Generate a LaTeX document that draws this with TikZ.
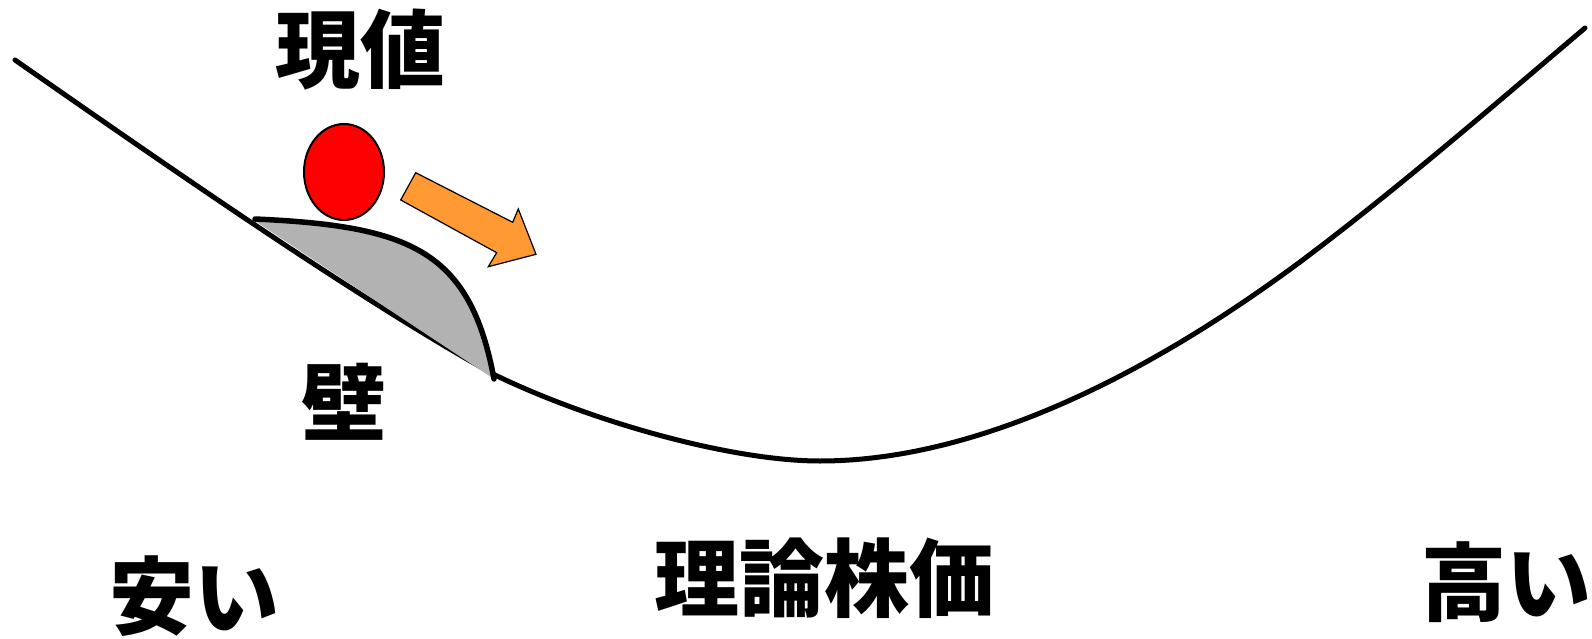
\documentclass[tikz,border=0pt]{standalone}
\usepackage{fontspec}
\usetikzlibrary{shapes.geometric}
\newfontfamily\cjk{Noto Sans CJK JP}
\definecolor{ballred}{RGB}{255,0,0}
\definecolor{arroworange}{RGB}{255,153,51}
\definecolor{wallgrey}{RGB}{178,178,178}
\tikzset{
  lbl/.style={inner sep=0pt, font=\cjk\bfseries\fontsize{85}{85}\selectfont},
  mainline/.style={line width=5pt, line cap=round, line join=round},
}
\begin{document}
\begin{tikzpicture}[x=1pt,y=-1pt]
\useasboundingbox[fill=white] (0,0) rectangle (1592,639);
% main curve
\draw[mainline] (15,60) .. controls (180,175) and (360,300) .. (495,375)
  .. controls (590,421) and (730,461) .. (820,461)
  .. controls (1020,461) and (1220,321) .. (1300,262)
  .. controls (1400,187) and (1500,100) .. (1585,28);
% wall
\fill[wallgrey] (255,219) .. controls (410,226) and (470,250) .. (494,379) -- (258,223) -- cycle;
\draw[line width=5.5pt, line cap=round] (255,219) .. controls (410,226) and (470,250) .. (494,379);
% ball
\node[draw=black, line width=2pt, fill=ballred, ellipse, minimum width=80pt, minimum height=96pt, inner sep=0pt] (ball) at (344,172) {};
% arrow
\draw[fill=arroworange, line width=1.2pt, line join=miter] (415.7,172.7) -- (512.7,222.3) -- (518.3,209) -- (536,254.3) -- (488.3,266.7) -- (496.7,252.7) -- (400.7,200) -- cycle;
% labels
\node[lbl] (genne) at (360,50) {現値};
\node[lbl] (kabe) at (344,402) {壁};
\node[lbl] (riron) at (824,578) {理論株価};
\node[lbl] (yasui) at (194,596) {安い};
\node[lbl] (takai) at (1506,582) {高い};
\end{tikzpicture}
\end{document}
